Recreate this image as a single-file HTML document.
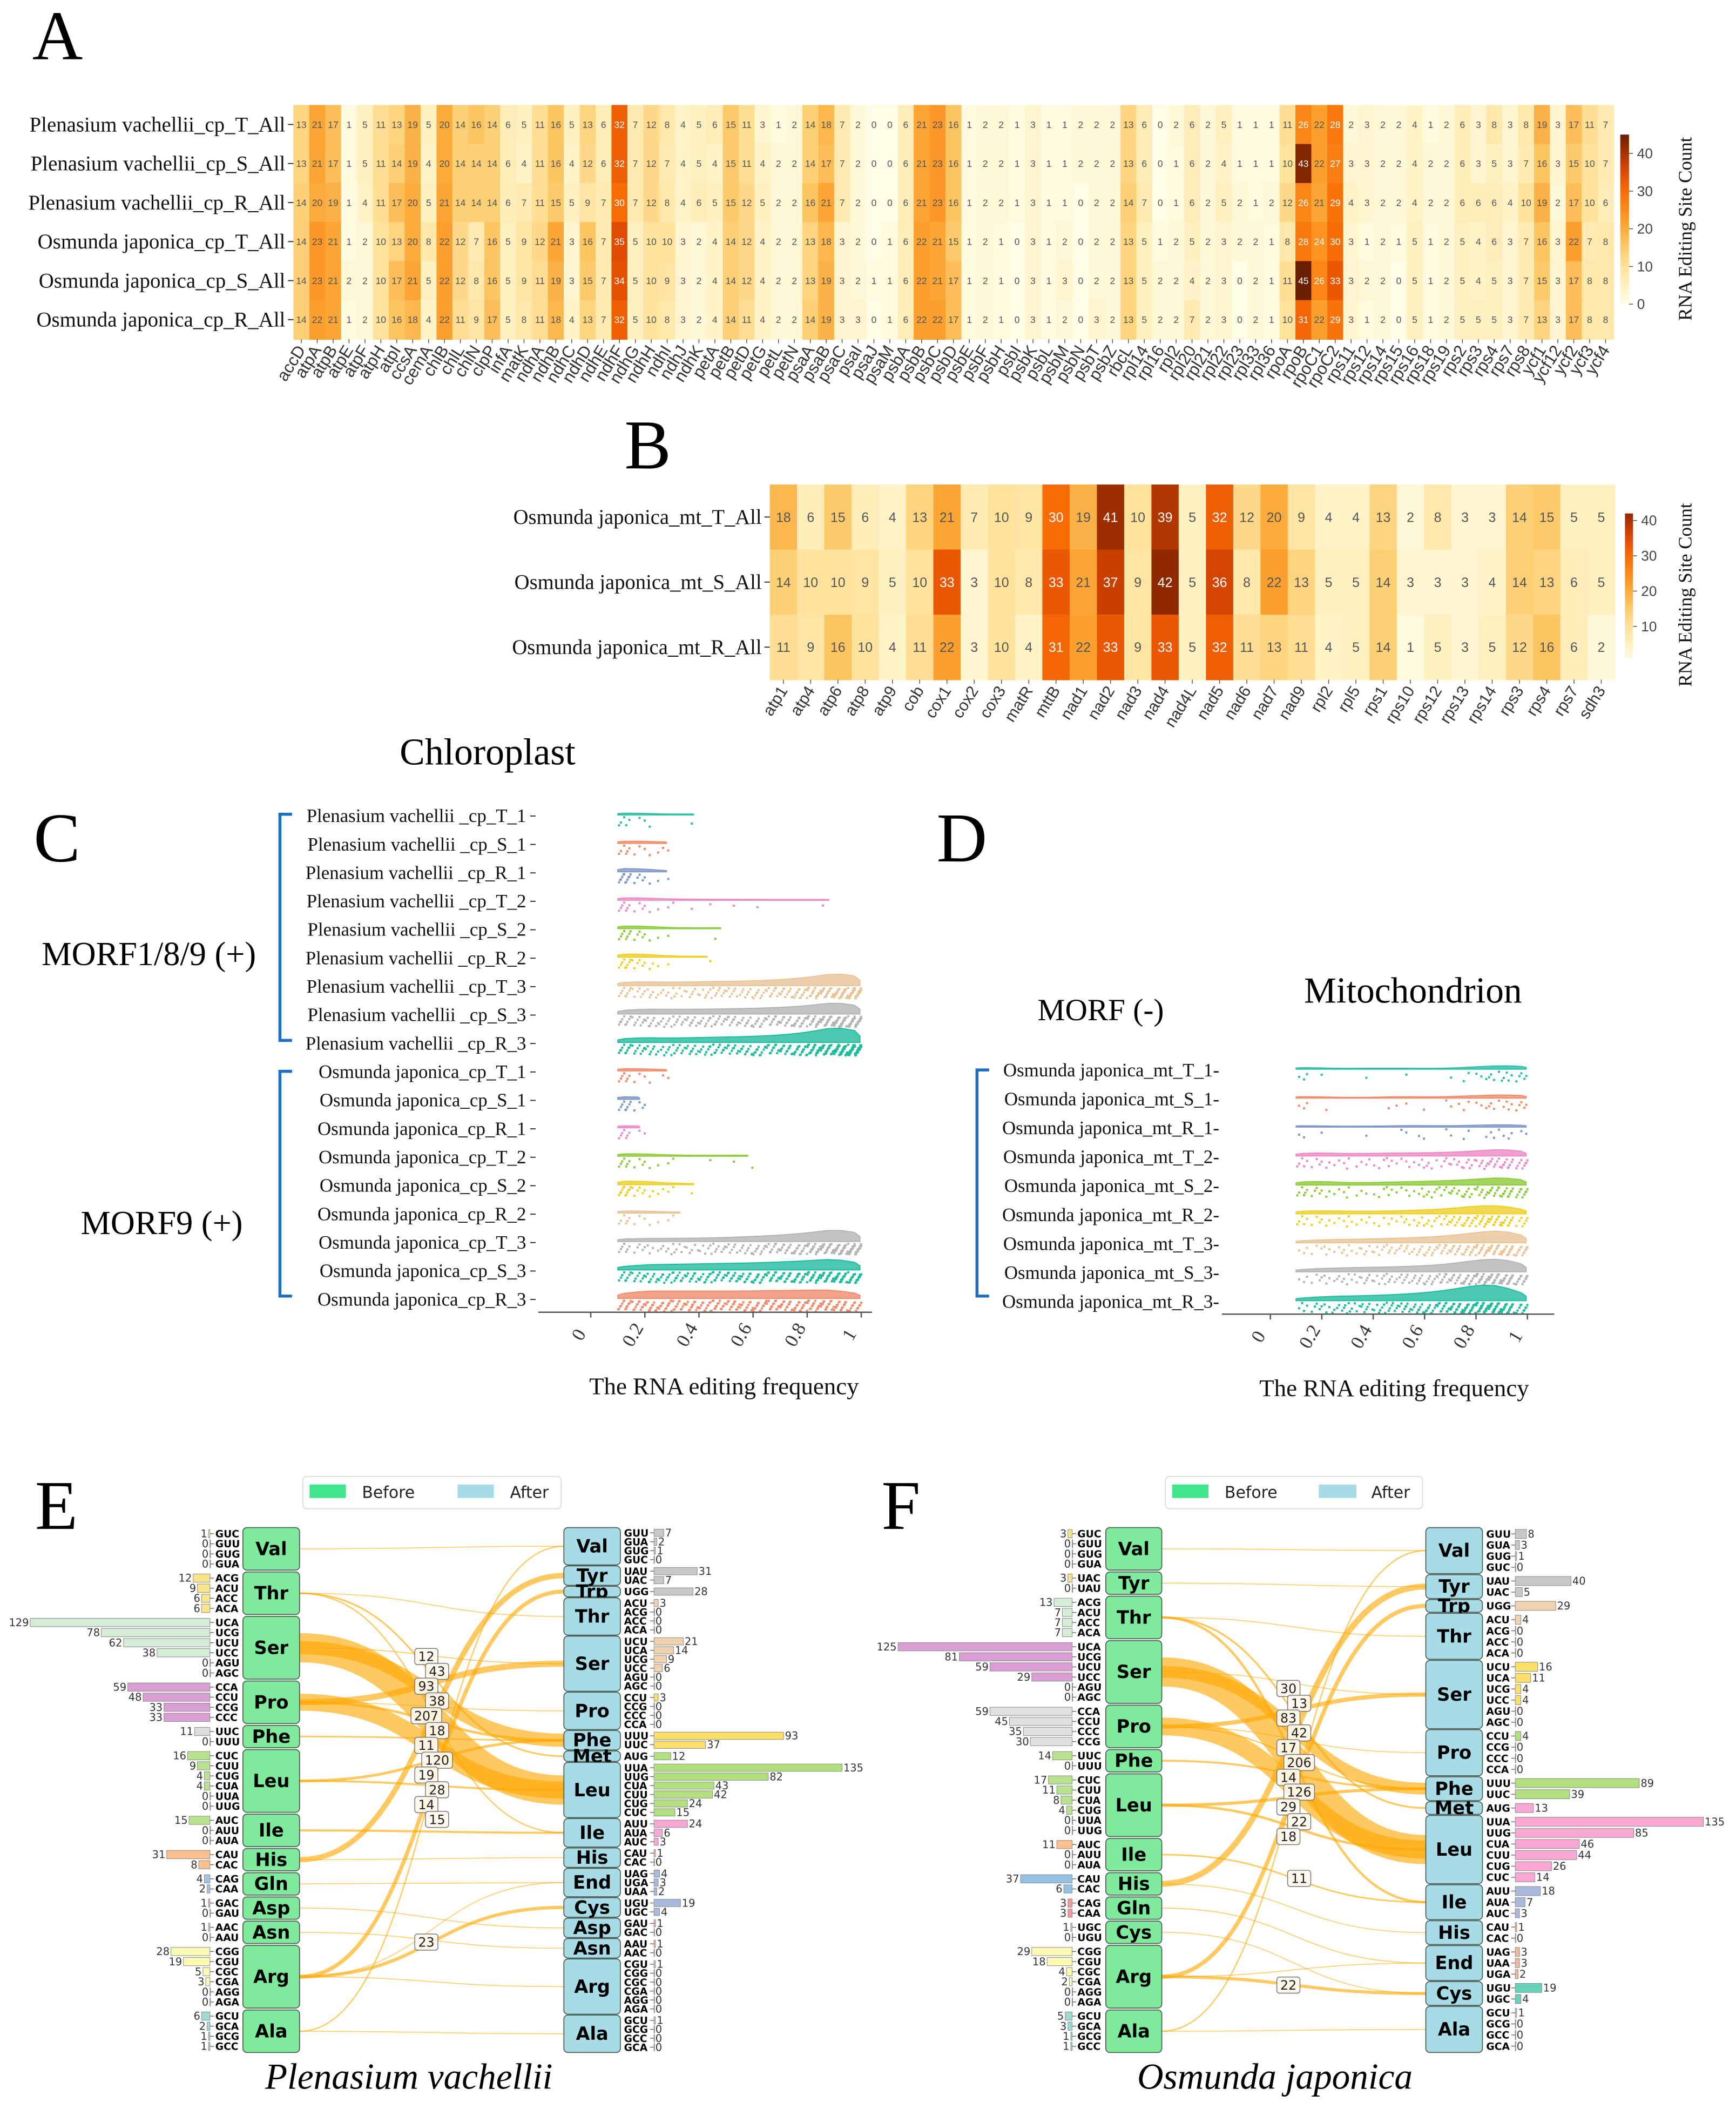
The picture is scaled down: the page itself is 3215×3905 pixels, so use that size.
<!DOCTYPE html>
<html><head><meta charset="utf-8"><title>RNA editing figure</title>
<style>
html,body{margin:0;padding:0;background:#fff;}
svg{display:block;}
.serif{font-family:"Liberation Serif","DejaVu Serif",serif;}
.sans{font-family:"Liberation Sans","DejaVu Sans",sans-serif;}
.dv{font-family:"DejaVu Sans","Liberation Sans",sans-serif;}
</style></head>
<body>
<svg id="fig" xmlns="http://www.w3.org/2000/svg" width="3215" height="3905" viewBox="0 0 1290 1567" preserveAspectRatio="none">
<rect x="0" y="0" width="1290" height="1567" fill="#fff"/>
<text class="serif" x="24" y="44" font-size="52">A</text>
<text class="serif" x="464" y="348" font-size="52">B</text>
<text class="serif" x="297" y="568" font-size="28">Chloroplast</text>
<text class="serif" x="25" y="640" font-size="52">C</text>
<text class="serif" x="31" y="717" font-size="25">MORF1/8/9 (+)</text>
<text class="serif" x="60" y="917" font-size="25">MORF9 (+)</text>
<text class="serif" x="696" y="640" font-size="52">D</text>
<text class="serif" x="969" y="745" font-size="27">Mitochondrion</text>
<text class="serif" x="771" y="758" font-size="23">MORF (-)</text>
<text class="serif" x="26" y="1136" font-size="52">E</text>
<text class="serif" x="655" y="1136" font-size="52">F</text>
<text class="serif" x="197" y="1552" font-size="27" font-style="italic">Plenasium vachellii</text>
<text class="serif" x="845" y="1552" font-size="27" font-style="italic">Osmunda japonica</text>
<g>
<rect x="225" y="1097" width="192" height="24" rx="3" fill="#fff" stroke="#ddd" stroke-width="0.8"/>
<rect x="230" y="1103" width="27" height="10" fill="#3fe68a"/>
<text class="dv" x="269" y="1113" font-size="12" fill="#222">Before</text>
<rect x="340" y="1103" width="27" height="10" fill="#a6dbe7"/>
<text class="dv" x="379" y="1113" font-size="12" fill="#222">After</text>
</g>
<g>
<rect x="866" y="1097" width="191" height="24" rx="3" fill="#fff" stroke="#ddd" stroke-width="0.8"/>
<rect x="871" y="1103" width="27" height="10" fill="#3fe68a"/>
<text class="dv" x="910" y="1113" font-size="12" fill="#222">Before</text>
<rect x="980" y="1103" width="28" height="10" fill="#a6dbe7"/>
<text class="dv" x="1019" y="1113" font-size="12" fill="#222">After</text>
</g>
<g id="gA"></g>
<g id="gB"></g>
<g id="gC"></g>
<g id="gD"></g>
<g id="gE"></g>
<g id="gF"></g>
</svg>
<script>
// ---------- Panel A data ----------
const genesA = ['accD','atpA','atpB','atpE','atpF','atpH','atpI','ccsA','cemA','chlB','chlL','chlN','clpP','infA','matK','ndhA','ndhB','ndhC','ndhD','ndhE','ndhF','ndhG','ndhH','ndhI','ndhJ','ndhK','petA','petB','petD','petG','petL','petN','psaA','psaB','psaC','psaI','psaJ','psaM','psbA','psbB','psbC','psbD','psbE','psbF','psbH','psbI','psbK','psbL','psbM','psbN','psbT','psbZ','rbcL','rpl14','rpl16','rpl2','rpl20','rpl21','rpl22','rpl23','rpl33','rpl36','rpoA','rpoB','rpoC1','rpoC2','rps11','rps12','rps14','rps15','rps16','rps18','rps19','rps2','rps3','rps4','rps7','rps8','ycf1','ycf12','ycf2','ycf3','ycf4'];
const rowLabelsA = ['Plenasium vachellii_cp_T_All','Plenasium vachellii_cp_S_All','Plenasium vachellii_cp_R_All','Osmunda japonica_cp_T_All','Osmunda japonica_cp_S_All','Osmunda japonica_cp_R_All'];
const pvCpT = [13,21,17,1,5,11,13,19,5,20,14,16,14,6,5,11,16,5,13,6,32,7,12,8,4,5,6, 15,11,3,1,2,14,18,7,2,0,0,6,21,23,16,1,2,2,1,3,1,1,2,2,2,13,6,0, 2,6,2,5,1,1,1,11,26,22,28,2,3,2,2,4,1,2,6,3,8,3,8,19,3,17,11,7];
const pvCpS = [13,21,17,1,5,11,14,19,4,20,14,14,14,6,4,11,16,4,12,6,32,7,12,7,4,5,4, 15,11,4,2,2,14,17,7,2,0,0,6,21,23,16,1,2,2,1,3,1,1,2,2,2,13,6,0, 1,6,2,4,1,1,1,10,43,22,27,3,3,2,2,4,2,2,6,3,5,3,7,16,3,15,10,7];
const pvCpR = [14,20,19,1,4,11,17,20,5,21,14,14,14,6,7,11,15,5,9,7,30,7,12,8,4,6,5, 15,12,5,2,2,16,21,7,2,0,0,6,21,23,16,1,2,2,1,3,1,1,0,2,2,14,7,0, 1,6,2,5,2,1,2,12,26,21,29,4,3,2,2,4,2,2,6,6,6,4,10,19,2,17,10,6];
const ojCpT = [14,23,21,1,2,10,13,20,8,22,12,7,16,5,9,12,21,3,16,7,35,5,10,10,3,2,4, 14,12,4,2,2,13,18,3,2,0,1,6,22,21,15,1,2,1,0,3,1,2,0,2,2,13,5,1, 2,5,2,3,2,2,1,8,28,24,30,3,1,2,1,5,1,2,5,4,6,3,7,16,3,22,7,8];
const ojCpS = [14,23,21,2,2,10,17,21,5,22,12,8,16,5,9,11,19,3,15,7,34,5,10,9,3,2,4, 14,12,4,2,2,13,19,3,2,1,1,6,22,21,17,1,2,1,0,3,1,3,0,2,2,13,5,2, 2,4,2,3,0,2,1,11,45,26,33,3,2,2,0,5,1,2,5,4,5,3,7,15,3,17,8,8];
const ojCpR = [14,22,21,1,2,10,16,18,4,22,11,9,17,5,8,11,18,4,13,7,32,5,10,8,3,2,4, 14,11,4,2,2,14,19,3,3,0,1,6,22,22,17,1,2,1,0,3,1,2,0,3,2,13,5,2, 2,7,2,3,0,2,1,10,31,22,29,3,1,2,0,5,1,2,5,5,5,3,7,13,3,17,8,8];
const ticksA = [0,10,20,30,40];

// ---------- Panel B data ----------
const genesB = ['atp1','atp4','atp6','atp8','atp9','cob','cox1','cox2','cox3','matR','mttB','nad1','nad2','nad3','nad4','nad4L','nad5','nad6','nad7','nad9','rpl2','rpl5','rps1','rps10','rps12','rps13','rps14','rps3','rps4','rps7','sdh3'];
const rowLabelsB = ['Osmunda japonica_mt_T_All','Osmunda japonica_mt_S_All','Osmunda japonica_mt_R_All'];
const ojMtT = [18,6,15,6,4,13,21,7,10,9,30,19,41,10,39,5,32,12,20,9,4,4,13,2,8,3,3,14,15,5,5];
const ojMtS = [14,10,10,9,5,10,33,3,10,8,33,21,37,9,42,5,36,8,22,13,5,5,14,3,3,3,4,14,13,6,5];
const ojMtR = [11,9,16,10,4,11,22,3,10,4,31,22,33,9,33,5,32,11,13,11,4,5,14,1,5,3,5,12,16,6,2];
const ticksB = [10,20,30,40];

// ---------- Panel C/D data: counts of editing sites per frequency bin (0.10-1.00, width 0.05) ----------
const freqBinStart = 0.10, freqBinWidth = 0.05;
const freqTicks = [0,0.2,0.4,0.6,0.8,1];
const rowLabelsC = ['Plenasium vachellii _cp_T_1','Plenasium vachellii _cp_S_1','Plenasium vachellii _cp_R_1','Plenasium vachellii _cp_T_2','Plenasium vachellii _cp_S_2','Plenasium vachellii _cp_R_2','Plenasium vachellii _cp_T_3','Plenasium vachellii _cp_S_3','Plenasium vachellii _cp_R_3','Osmunda japonica_cp_T_1','Osmunda japonica_cp_S_1','Osmunda japonica_cp_R_1','Osmunda japonica_cp_T_2','Osmunda japonica_cp_S_2','Osmunda japonica_cp_R_2','Osmunda japonica_cp_T_3','Osmunda japonica_cp_S_3','Osmunda japonica_cp_R_3'];
const binsC = [
 [5,2,1,0,0,1,0,0,0,0,0,0,0,0,0,0,0,0],
 [6,3,2,2,0,0,0,0,0,0,0,0,0,0,0,0,0,0],
 [12,5,2,1,0,0,0,0,0,0,0,0,0,0,0,0,0,0],
 [7,4,2,1,1,1,1,0,1,0,1,0,0,0,0,1,0,0],
 [8,5,2,1,0,0,0,1,0,0,0,0,0,0,0,0,0,0],
 [9,6,3,1,0,0,1,0,0,0,0,0,0,0,0,0,0,0],
 [9,7,6,5,6,6,7,8,7,8,9,10,12,14,17,21,27,32],
 [10,9,9,8,8,9,9,9,10,10,11,12,13,15,17,21,25,28],
 [11,9,8,7,8,9,9,10,10,11,12,13,15,18,22,27,34,40],
 [7,3,1,2,0,0,0,0,0,0,0,0,0,0,0,0,0,0],
 [9,4,0,0,0,0,0,0,0,0,0,0,0,0,0,0,0,0],
 [7,2,0,0,0,0,0,0,0,0,0,0,0,0,0,0,0,0],
 [7,4,2,1,1,0,1,0,1,1,0,0,0,0,0,0,0,0],
 [12,6,3,2,1,1,0,0,0,0,0,0,0,0,0,0,0,0],
 [6,3,2,1,1,0,0,0,0,0,0,0,0,0,0,0,0,0],
 [7,5,4,5,6,5,6,7,7,9,10,11,13,15,18,22,26,29],
 [9,9,10,10,11,11,12,12,13,13,14,15,16,17,19,21,23,22],
 [14,14,14,14,14,14,14,14,14,14,15,15,15,16,16,17,16,13]
];
const rowLabelsD = ['Osmunda japonica_mt_T_1-','Osmunda japonica_mt_S_1-','Osmunda japonica_mt_R_1-','Osmunda japonica_mt_T_2-','Osmunda japonica_mt_S_2-','Osmunda japonica_mt_R_2-','Osmunda japonica_mt_T_3-','Osmunda japonica_mt_S_3-','Osmunda japonica_mt_R_3-'];
const binsD = [
 [3,1,0,0,0,1,0,0,1,0,0,0,1,2,3,4,5,5],
 [3,0,1,0,0,0,0,2,1,1,0,1,2,2,3,4,4,5],
 [2,1,0,0,0,1,0,0,2,2,0,1,1,2,1,3,3,2],
 [5,4,3,3,2,3,3,4,3,4,4,4,5,6,7,9,10,9],
 [6,5,3,3,2,2,3,4,3,4,5,5,6,7,8,10,11,10],
 [5,4,3,3,3,3,3,3,4,5,5,6,8,10,12,13,11,7],
 [3,3,4,4,4,5,5,6,6,7,8,9,11,13,16,18,19,14],
 [3,4,4,5,5,6,6,6,7,8,8,10,12,15,18,20,19,14],
 [4,5,5,6,6,7,7,8,9,10,12,14,17,21,25,25,20,12]
];

// ---------- Panel E data ----------
const eLeftAA = ['Val','Thr','Ser','Pro','Phe','Leu','Ile','His','Gln','Asp','Asn','Arg','Ala'];
const eLeftCodons = [['GUC','GUU','GUG','GUA'],['ACG','ACU','ACC','ACA'],['UCA','UCG','UCU','UCC','AGU','AGC'],['CCA','CCU','CCG','CCC'],['UUC','UUU'],['CUC','CUU','CUG','CUA','UUA','UUG'],['AUC','AUU','AUA'],['CAU','CAC'],['CAG','CAA'],['GAC','GAU'],['AAC','AAU'],['CGG','CGU','CGC','CGA','AGG','AGA'],['GCU','GCA','GCG','GCC']];
const eLeftCounts = [[1,0,0,0],[12,9,6,6],[129,78,62,38,0,0],[59,48,33,33],[11,0],[16,9,4,4,0,0],[15,0,0],[31,8],[4,2],[1,0],[1,0],[28,19,5,3,0,0],[6,2,1,1]];
const eRightAA = ['Val','Tyr','Trp','Thr','Ser','Pro','Phe','Met','Leu','Ile','His','End','Cys','Asp','Asn','Arg','Ala'];
const eRightCodons = [['GUU','GUA','GUG','GUC'],['UAU','UAC'],['UGG'],['ACU','ACG','ACC','ACA'],['UCU','UCA','UCG','UCC','AGU','AGC'],['CCU','CCG','CCC','CCA'],['UUU','UUC'],['AUG'],['UUA','UUG','CUA','CUU','CUG','CUC'],['AUU','AUA','AUC'],['CAU','CAC'],['UAG','UGA','UAA'],['UGU','UGC'],['GAU','GAC'],['AAU','AAC'],['CGU','CGG','CGC','CGA','AGG','AGA'],['GCU','GCG','GCC','GCA']];
const eRightCounts = [[7,2,1,0],[31,7],[28],[3,0,0,0],[21,14,9,6,0,0],[3,0,0,0],[93,37],[12],[135,82,43,42,24,15],[24,6,3],[1,0],[4,3,2],[19,4],[1,0],[1,0],[1,0,0,0,0,0],[1,0,0,0]];
const eFlowFrom  = ['Ser','Pro','Ser','Pro','His','Arg','Arg','Leu','Pro','Ile','Leu','Thr','Phe','Thr','Ala','Ser','Gln','Thr','Pro','Arg','Val','His','Asp','Asn','Arg','Ala'];
const eFlowTo    = ['Leu','Leu','Phe','Ser','Tyr','Trp','Cys','Phe','Phe','Ile','Leu','Met','Phe','Ile','Val','Ser','End','Thr','Pro','End','Val','His','Asp','Asn','Arg','Ala'];
const eFlowValue = [207,120,93,43,38,28,23,19,18,15,14,12,11,9,9,6,6,3,3,3,1,1,1,1,1,1];

// ---------- Panel F data ----------
const fLeftAA = ['Val','Tyr','Thr','Ser','Pro','Phe','Leu','Ile','His','Gln','Cys','Arg','Ala'];
const fLeftCodons = [['GUC','GUU','GUG','GUA'],['UAC','UAU'],['ACG','ACU','ACC','ACA'],['UCA','UCG','UCU','UCC','AGU','AGC'],['CCA','CCU','CCC','CCG'],['UUC','UUU'],['CUC','CUU','CUA','CUG','UUA','UUG'],['AUC','AUU','AUA'],['CAU','CAC'],['CAG','CAA'],['UGC','UGU'],['CGG','CGU','CGC','CGA','AGG','AGA'],['GCU','GCA','GCG','GCC']];
const fLeftCounts = [[3,0,0,0],[3,0],[13,7,7,7],[125,81,59,29,0,0],[59,45,35,30],[14,0],[17,11,8,4,0,0],[11,0,0],[37,6],[3,3],[1,0],[29,18,4,2,0,0],[5,3,1,1]];
const fRightAA = ['Val','Tyr','Trp','Thr','Ser','Pro','Phe','Met','Leu','Ile','His','End','Cys','Ala'];
const fRightCodons = [['GUU','GUA','GUG','GUC'],['UAU','UAC'],['UGG'],['ACU','ACG','ACC','ACA'],['UCU','UCA','UCG','UCC','AGU','AGC'],['CCU','CCG','CCC','CCA'],['UUU','UUC'],['AUG'],['UUA','UUG','CUA','CUU','CUG','CUC'],['AUU','AUA','AUC'],['CAU','CAC'],['UAG','UAA','UGA'],['UGU','UGC'],['GCU','GCG','GCC','GCA']];
const fRightCounts = [[8,3,1,0],[40,5],[29],[4,0,0,0],[16,11,4,4,0,0],[4,0,0,0],[89,39],[13],[135,85,46,44,26,14],[18,7,3],[1,0],[3,3,2],[19,4],[1,0,0,0]];
const fFlowFrom  = ['Ser','Pro','Ser','His','Pro','Arg','Leu','Arg','Leu','Thr','Phe','Thr','Ile','Pro','Ala','Ser','Gln','Val','Tyr','Thr','Pro','Arg','His','Cys','Ala'];
const fFlowTo    = ['Leu','Leu','Phe','Tyr','Ser','Trp','Phe','Cys','Leu','Ile','Phe','Met','Ile','Phe','Val','Ser','End','Val','Tyr','Thr','Pro','End','His','Cys','Ala'];
const fFlowValue = [206,126,83,42,30,29,22,22,18,17,14,13,11,9,9,5,6,3,3,4,4,2,1,1,1];

// ---------- helpers ----------
const NS = 'http://www.w3.org/2000/svg';
function mk(tag, attrs, parent){ const e = document.createElementNS(NS, tag); for (const k in attrs) e.setAttribute(k, attrs[k]); parent.appendChild(e); return e; }
function txt(str, attrs, parent){ const e = mk('text', attrs, parent); e.textContent = str; return e; }
const heatStops = [[0,'#fffde6'],[5,'#fff0c0'],[10,'#ffe29c'],[15,'#fecb6c'],[20,'#fbab3c'],[25,'#fb8c1a'],[30,'#f86c06'],[35,'#e04a02'],[40,'#a83200'],[45,'#6a1e00']];
function hex2rgb(h){ return [parseInt(h.substr(1,2),16),parseInt(h.substr(3,2),16),parseInt(h.substr(5,2),16)]; }
function heatColor(v){
  if (v <= heatStops[0][0]) return heatStops[0][1];
  for (let i=1;i<heatStops.length;i++){
    if (v <= heatStops[i][0]){
      const a = heatStops[i-1], b = heatStops[i];
      const t = (v-a[0])/(b[0]-a[0]);
      const ca = hex2rgb(a[1]), cb = hex2rgb(b[1]);
      const c = ca.map((x,k)=>Math.round(x+(cb[k]-x)*t));
      return 'rgb('+c.join(',')+')';
    }
  }
  return heatStops[heatStops.length-1][1];
}
let gradId = 0;

// ---------- heatmap ----------
function drawHeatmap(g, genes, rowLabels, rows, box, opt){
  const cw = (box.x1-box.x0)/genes.length, ch = (box.y1-box.y0)/rows.length;
  const xScale = i => box.x0 + i*cw;
  const yScale = j => box.y0 + j*ch;
  rows.forEach((vals, j) => {
    vals.forEach((v, i) => {
      const r = mk('rect', {x: xScale(i), y: yScale(j), width: cw+0.4, height: ch+0.4, fill: heatColor(v)}, g);
      
      
      const t = txt(String(v), {x: xScale(i)+cw/2, y: yScale(j)+ch/2+opt.cellFont*0.36, 'font-size': opt.cellFont, 'text-anchor':'middle', fill: v>=24 ? '#ffffff' : '#555555', class:'sans'}, g);
      
      
    });
    const rl = txt(rowLabels[j], {x: box.x0-6, y: yScale(j)+ch/2+opt.rowFont*0.33, 'font-size': opt.rowFont, 'text-anchor':'end', fill:'#111', class:'serif'}, g);
    
    
    const tk = mk('line', {x1: box.x0-4, x2: box.x0, y1: yScale(j)+ch/2, y2: yScale(j)+ch/2, stroke:'#333', 'stroke-width':0.8}, g);
    
    
  });
  genes.forEach((gn, i) => {
    const cx = xScale(i)+cw/2;
    const tk = mk('line', {x1: cx, x2: cx, y1: box.y1, y2: box.y1+3, stroke:'#555', 'stroke-width':0.6}, g);
    
    
    const lx = cx+3.5, ly = box.y1+8;
    const lb = txt(gn, {x: lx, y: ly, 'font-size': opt.colFont, 'text-anchor':'end', fill:'#333', class:'sans', transform:'rotate(-58 '+lx+' '+ly+')'}, g);
    
    
  });
  const cb = opt.cbar;
  const id = 'cbg' + (gradId++);
  const defs = mk('defs', {}, g);
  const lg = mk('linearGradient', {id: id, x1:'0', y1:'1', x2:'0', y2:'0'}, defs);
  for (let k=0;k<=20;k++){
    const v = cb.vmin + (cb.vmax-cb.vmin)*k/20;
    mk('stop', {offset: (k/20), 'stop-color': heatColor(v)}, lg);
  }
  const cy = v => cb.y0 - (v-cb.vmin)*(cb.y0-cb.y1)/(cb.vmax-cb.vmin);
  const bar = mk('rect', {x: cb.x, y: cy(cb.vmax), width: cb.w, height: cy(cb.vmin)-cy(cb.vmax), fill:'url(#'+id+')'}, g);
  
  
  opt.ticks.forEach(v => {
    const tk = mk('line', {x1: cb.x+cb.w, x2: cb.x+cb.w+3, y1: cy(v), y2: cy(v), stroke:'#555', 'stroke-width':0.6}, g);
    
    
    const tl = txt(String(v), {x: cb.x+cb.w+6, y: cy(v)+3.6, 'font-size': 10.5, fill:'#444', class:'sans'}, g);
    
    
  });
  const tt = txt('RNA Editing Site Count', {x: cb.titleX, y: cb.titleY, 'font-size': 14, 'text-anchor':'middle', fill:'#111', class:'serif', transform:'rotate(-90 '+cb.titleX+' '+cb.titleY+')'}, g);
  
  
}

drawHeatmap(document.getElementById('gA'), genesA, rowLabelsA, [pvCpT,pvCpS,pvCpR,ojCpT,ojCpS,ojCpR],
  {x0:218, x1:1199, y0:78, y1:252},
  {cellFont:7, rowFont:15.6, colFont:12.5,
   cbar:{x:1204, w:6.5, y0:226, y1:100, vmin:0, vmax:45, titleX:1257, titleY:170}, ticks: ticksA});
drawHeatmap(document.getElementById('gB'), genesB, rowLabelsB, [ojMtT,ojMtS,ojMtR],
  {x0:572, x1:1200, y0:360, y1:505},
  {cellFont:10, rowFont:15.5, colFont:12,
   cbar:{x:1207.5, w:6, y0:489, y1:381.5, vmin:1, vmax:42, titleX:1257, titleY:442}, ticks: ticksB});

// ---------- rainclouds ----------
const colorsC = ['#2bbfa4','#f08c6c','#8098c8','#ec8ac6','#8ccc3a','#ecd024','#e8c496','#b4b4b4','#1fbc9c','#f08c6c','#8098c8','#ec8ac6','#8ccc3a','#ecd024','#e8c496','#b4b4b4','#1fbc9c','#f08c6c'];
const colorsD = ['#2bbfa4','#f08c6c','#8098c8','#ec8ac6','#8ccc3a','#ecd024','#e8c496','#b4b4b4','#1fbc9c'];
function frac(x){ return x - Math.floor(x); }
function smooth(arr){
  const k = [1,2,3,2,1];
  return arr.map((_, j) => { let s=0, w=0; for (let d=-2; d<=2; d++){ const q=j+d; if (q>=0 && q<arr.length){ s += arr[q]*k[d+2]; } w += k[d+2]; } return s/w; });
}
function drawRaincloud(g, labels, bins, colors, cfg){
  const xs = v => cfg.x0 + v*(cfg.x1-cfg.x0);
  const rowY = j => cfg.rowY0 + j*cfg.step;
  const smoothed = bins.map(smooth);
  let gmax = 0; smoothed.forEach(a => a.forEach(v => { if (v>gmax) gmax=v; }));
  bins.forEach((counts, j) => {
    const y = rowY(j), col = colors[j];
    let first=-1, last=-1;
    counts.forEach((c,k)=>{ if (c>0){ if(first<0) first=k; last=k; } });
    if (first >= 0){
      const base = y - 0.8;
      const hh = v => v/gmax*cfg.densH + 0.5;
      let d = 'M'+xs(freqBinStart+first*freqBinWidth)+' '+base+' L'+xs(freqBinStart+first*freqBinWidth)+' '+(base-hh(smoothed[j][first]*0.6));
      for (let k=first;k<=last;k++){ d += ' L'+xs(freqBinStart+(k+0.5)*freqBinWidth)+' '+(base-hh(smoothed[j][k])); }
      const xe = xs(freqBinStart+(last+1)*freqBinWidth - (last===counts.length-1?0.005:0.02));
      d += ' L'+xe+' '+(base-hh(smoothed[j][last]*0.5))+' L'+xe+' '+base+' Z';
      const p = mk('path', {d: d, fill: col, 'fill-opacity':0.8, stroke: col, 'stroke-width':0.8}, g);
      
      
    }
    counts.forEach((c, k) => {
      for (let i=0;i<c;i++){
        const v = freqBinStart + k*freqBinWidth + frac((i+1)*0.618034 + k*0.37)*freqBinWidth;
        const dy = y + 0.8 + frac((i+1)*0.7548 + k*0.569)*8;
        const dot = mk('rect', {x: xs(v)-0.8, y: dy-0.8, width:1.6, height:1.6, fill: col}, g);
        
        
      }
    });
    const lb = txt(labels[j], {x: cfg.labelX, y: y+4.5, 'font-size':14, 'text-anchor':'end', fill:'#111', class:'serif'}, g);
    
    
    if (cfg.tick){
      const tk = mk('line', {x1: cfg.labelX+3, x2: cfg.labelX+7, y1: y, y2: y, stroke:'#333', 'stroke-width':0.8}, g);
      
      
    }
  });
  const ax = mk('line', {x1: cfg.axX0, x2: cfg.axX1, y1: cfg.axY, y2: cfg.axY, stroke:'#555', 'stroke-width':1}, g);
  
  
  freqTicks.forEach(v => {
    const x = xs(v);
    const tk = mk('line', {x1:x, x2:x, y1: cfg.axY, y2: cfg.axY+4, stroke:'#555', 'stroke-width':1}, g);
    
    
    const lx = x-5, ly = cfg.axY+19;
    const tl = txt(String(v), {x: lx, y: ly, 'font-size':14, 'text-anchor':'middle', fill:'#333', class:'serif', transform:'rotate(-60 '+lx+' '+ly+')'}, g);
    
    
  });
  const at = txt('The RNA editing frequency', {x: cfg.titleX, y: cfg.axY+61, 'font-size':18, 'text-anchor':'middle', fill:'#111', class:'serif'}, g);
  
  
  cfg.brackets.forEach(b => {
    const br = mk('path', {d:'M'+(b.x+9)+' '+b.y0+' H'+b.x+' V'+b.y1+' H'+(b.x+9), fill:'none', stroke:'#1a6fc4', 'stroke-width':2.2}, g);
    
    
  });
}
drawRaincloud(document.getElementById('gC'), rowLabelsC, binsC, colorsC,
  {x0:439, x1:640, rowY0:606.3, step:21.13, labelX:391, tick:true, densH:10, axX0:400, axX1:648, axY:975, titleX:538,
   brackets:[{x:208, y0:605, y1:773},{x:208, y0:796, y1:963}]});
drawRaincloud(document.getElementById('gD'), rowLabelsD, binsD, colorsD,
  {x0:944, x1:1135, rowY0:795.2, step:21.5, labelX:906, tick:false, densH:11, axX0:908, axX1:1155, axY:976.4, titleX:1036,
   brackets:[{x:726, y0:795, y1:963}]});

// ---------- codon sankey ----------
const colorsELeft = ['#f5deb3','#fbe68c','#d5edd5','#da9ed4','#dddddd','#b8e28e','#b8e28e','#fdc08c','#9fc6e4','#f4a8a8','#cccccc','#fafab4','#9edad2'];
const colorsERight = ['#c8c8c8','#c8c8c8','#c8c8c8','#f0d2b0','#f0d2b0','#fde06a','#fde06a','#b0e07e','#b0e07e','#f9a8d4','#f9a8d4','#a9b9de','#a9b9de','#f4b89e','#f4b89e','#c8c8c8','#c8c8c8'];
const colorsFLeft = ['#f8e38a','#f8e38a','#d5edd5','#da9ed4','#e0e0e0','#b8e28e','#b8e28e','#fdc08c','#94c2e6','#f49a9a','#cccccc','#fafab4','#9edad2'];
const colorsFRight = ['#c8c8c8','#c8c8c8','#f0d2b0','#f0d2b0','#fde06a','#b0e07e','#b0e07e','#f9a8d4','#f9a8d4','#a9b9de','#f4b89e','#f4b89e','#66d2b8','#c8c8c8'];
function layoutSide(codons, top, bottom, pad, gap){
  const nC = codons.reduce((s,a)=>s+a.length,0), nB = codons.length;
  const h = (bottom-top - nB*pad - (nB-1)*gap)/nC;
  const boxes = []; let y = top;
  codons.forEach(a => { const H = a.length*h + pad; boxes.push({y0:y, y1:y+H, h:h, pad:pad}); y += H + gap; });
  return boxes;
}
function drawSide(g, side, aa, codons, counts, colors, top, bottom){
  const boxes = layoutSide(codons, top, bottom, side.pad, side.gap);
  const barS = 1.035;
  boxes.forEach((b, i) => {
    const bx = mk('rect', {x: side.bx0, y: b.y0, width: side.bx1-side.bx0, height: b.y1-b.y0, rx:3, fill: side.fill, stroke:'#4d5f55', 'stroke-width':0.7}, g);
    
    
    const cyb = (b.y0+b.y1)/2;
    const bl = txt(aa[i], {x:(side.bx0+side.bx1)/2, y: cyb+4.6, 'font-size':13.5, 'font-weight':'bold', 'text-anchor':'middle', fill:'#000', class:'dv'}, g);
    
    
    codons[i].forEach((cd, k) => {
      const cy = b.y0 + b.pad/2 + b.h*(k+0.5);
      const v = counts[i][k];
      const len = v*barS;
      const cl = txt(cd, {x: side.codonX, y: cy+2.7, 'font-size':7.5, 'font-weight':'bold', fill:'#000', class:'dv'}, g);
      
      
      const tk = mk('line', {x1: side.barX, x2: side.barX + side.dir*-3, y1: cy, y2: cy, stroke:'#555', 'stroke-width':0.5}, g);
      
      
      const bh = b.h*0.82;
      const br = mk('rect', {x: side.dir<0 ? side.barX-len : side.barX, y: cy-bh/2, width: Math.max(len,0.4), height: bh, fill: colors[i], stroke:'#8a8a8a', 'stroke-width':0.4}, g);
      
      
      const nl = txt(String(v), {x: side.barX + side.dir*(len+1), y: cy+2.7, 'font-size':7.8, 'text-anchor': side.dir<0?'end':'start', fill:'#333', class:'dv'}, g);
      
      
    });
  });
  return boxes;
}
function drawSankey(g, cfg){
  const top = 1135, bottom = 1525;
  const flowG = mk('g', {}, g);
  
  
  const lb = drawSide(g, cfg.L, cfg.lAA, cfg.lCodons, cfg.lCounts, cfg.lColors, top, bottom);
  const rb = drawSide(g, cfg.R, cfg.rAA, cfg.rCodons, cfg.rCounts, cfg.rColors, top, bottom);
  const lc = {}, rc = {};
  cfg.lAA.forEach((a,i)=>{ lc[a] = (lb[i].y0+lb[i].y1)/2; });
  cfg.rAA.forEach((a,i)=>{ rc[a] = (rb[i].y0+rb[i].y1)/2; });
  const xL = cfg.L.bx1, xR = cfg.R.bx0, xm = (xL+xR)/2;
  const labels = [];
  cfg.from.forEach((f, i) => {
    const yL = lc[f], yR = rc[cfg.to[i]], v = cfg.val[i];
    if (yL === undefined || yR === undefined) return;
    const p = mk('path', {d:'M'+xL+' '+yL+' C'+xm+' '+yL+' '+xm+' '+yR+' '+xR+' '+yR, fill:'none', stroke:'#ffa800', 'stroke-opacity': 0.62, 'stroke-width': Math.max(0.6, v*0.105)}, flowG);
    
    
    if (v >= 10) labels.push({v:v, y:(yL+yR)/2});
  });
  labels.sort((a,b)=>a.y-b.y);
  const sp = 11;
  labels.forEach((L,i)=>{ L.py = (i>0 && L.y < labels[i-1].py + sp) ? labels[i-1].py + sp : L.y; });
  // shift the main stack (all but far-away trailing labels) so its mean matches original mean
  const main = labels.filter(L => L.py - L.y > 0.01 || labels.some(M => M!==L && Math.abs(M.py - L.py) < sp+0.1));
  if (main.length){
    const off = main.reduce((s,L)=>s+(L.y-L.py),0)/main.length;
    main.forEach(L => { L.py += off; });
  }
  labels.forEach((L, i) => {
    const s = String(L.v), w = s.length*5.6+6;
    const x = xm + (i%2 ? 4 : -4);
    const r = mk('rect', {x: x-w/2, y: L.py-6, width: w, height: 12, rx:2, fill:'#fdf8ee', 'fill-opacity':0.92, stroke:'#777', 'stroke-width':0.6}, g);
    
    
    const t = txt(s, {x: x, y: L.py+3.4, 'font-size':9.5, 'text-anchor':'middle', fill:'#222', class:'dv'}, g);
    
    
  });
}
drawSankey(document.getElementById('gE'), {
  L:{bx0:180.5, bx1:222.6, codonX:160, barX:156, dir:-1, pad:1.6, gap:1.4, fill:'#7fe99c'},
  R:{bx0:419, bx1:461, codonX:463.7, barX:486, dir:1, pad:1.2, gap:0.7, fill:'#a7dbe6'},
  lAA:eLeftAA, lCodons:eLeftCodons, lCounts:eLeftCounts, lColors:colorsELeft,
  rAA:eRightAA, rCodons:eRightCodons, rCounts:eRightCounts, rColors:colorsERight,
  from:eFlowFrom, to:eFlowTo, val:eFlowValue});
drawSankey(document.getElementById('gF'), {
  L:{bx0:821.7, bx1:863.3, codonX:800.6, barX:796.7, dir:-1, pad:1.6, gap:1.4, fill:'#7fe99c'},
  R:{bx0:1059.5, bx1:1101.6, codonX:1104.4, barX:1126, dir:1, pad:1.2, gap:0.8, fill:'#a7dbe6'},
  lAA:fLeftAA, lCodons:fLeftCodons, lCounts:fLeftCounts, lColors:colorsFLeft,
  rAA:fRightAA, rCodons:fRightCodons, rCounts:fRightCounts, rColors:colorsFRight,
  from:fFlowFrom, to:fFlowTo, val:fFlowValue});
</script>
</body></html>
